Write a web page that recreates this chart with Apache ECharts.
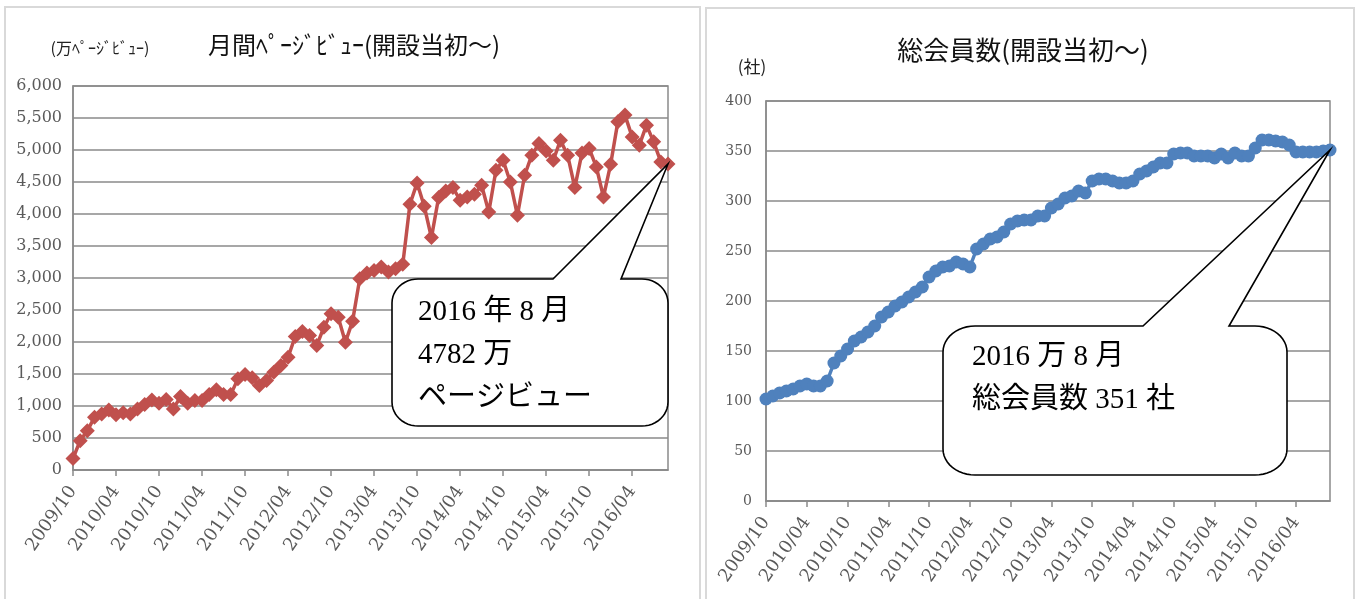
<!DOCTYPE html>
<html><head><meta charset="utf-8">
<script src="https://cdn.jsdelivr.net/npm/echarts@6/dist/echarts.min.js"></script>
<style>html,body{margin:0;padding:0;background:#fff}#c{width:1361px;height:599px}</style>
</head><body><div id="c"></div>
<script>
const months = [
'2009/10','2009/11','2009/12','2010/01','2010/02','2010/03','2010/04','2010/05','2010/06','2010/07','2010/08','2010/09',
'2010/10','2010/11','2010/12','2011/01','2011/02','2011/03','2011/04','2011/05','2011/06','2011/07','2011/08','2011/09',
'2011/10','2011/11','2011/12','2012/01','2012/02','2012/03','2012/04','2012/05','2012/06','2012/07','2012/08','2012/09',
'2012/10','2012/11','2012/12','2013/01','2013/02','2013/03','2013/04','2013/05','2013/06','2013/07','2013/08','2013/09',
'2013/10','2013/11','2013/12','2014/01','2014/02','2014/03','2014/04','2014/05','2014/06','2014/07','2014/08','2014/09',
'2014/10','2014/11','2014/12','2015/01','2015/02','2015/03','2015/04','2015/05','2015/06','2015/07','2015/08','2015/09',
'2015/10','2015/11','2015/12','2016/01','2016/02','2016/03','2016/04','2016/05','2016/06','2016/07','2016/08','2016/09'];

const pageViews = [
180,458,615,823,876,939,865,896,876,955,1022,1095,
1043,1100,955,1147,1043,1085,1085,1178,1252,1178,1178,1424,
1491,1440,1319,1397,1528,1632,1762,2086,2164,2102,1945,2232,
2441,2388,1997,2326,2989,3077,3119,3171,3093,3145,3213,4152,
4486,4121,3631,4257,4360,4413,4215,4266,4308,4449,4032,4684,
4840,4501,3980,4606,4919,5102,4986,4840,5154,4919,4413,4955,
5024,4736,4266,4778,5440,5545,5205,5075,5388,5127,4814,4782];

const members = [
102,105,108,110,112,115,117,115,115,120,138,145,
152,160,164,169,175,184,189,195,199,204,209,214,
224,230,234,235,239,237,234,252,257,262,264,269,
277,280,281,281,285,285,293,297,303,305,310,308,
320,322,322,320,318,318,320,327,330,334,338,338,
347,348,348,345,345,345,343,347,343,348,345,345,
353,361,361,360,359,356,349,349,349,349,350,351];

const leftTitle = '月間ﾍﾟｰｼﾞﾋﾞｭｰ(開設当初～)';
const leftUnit = '(万ﾍﾟｰｼﾞﾋﾞｭｰ)';
const rightTitle = '総会員数(開設当初～)';
const rightUnit = '(社)';
const leftNote = ['2016 年 8 月', '4782 万', 'ページビュー'];
const rightNote = ['2016 万 8 月', '総会員数 351 社'];

const chart = echarts.init(document.getElementById('c'), null, {renderer: 'canvas'});
const gray = '#8a8a8a';
const lblColor = '#5a5a5a';
const serif = 'DejaVu Serif';
const cjk = '"Noto Sans CJK JP"';

function xAxisCfg(gi) {
  return {
    type: 'category', gridIndex: gi, data: months, boundaryGap: false,
    axisLine: {show: true, lineStyle: {color: gray, width: 1.5}},
    axisTick: {show: true, interval: 5, length: 6, lineStyle: {color: gray, width: 1.5}},
    axisLabel: {interval: 5, rotate: 55, margin: 18, color: lblColor, fontFamily: serif, fontSize: 18},
    splitLine: {show: false}
  };
}
function yAxisCfg(gi, max, step, fs, mg) {
  return {
    type: 'value', gridIndex: gi, min: 0, max: max, interval: step,
    axisLine: {show: true, lineStyle: {color: gray, width: 1.5}},
    axisTick: {show: false},
    axisLabel: {color: lblColor, fontFamily: serif, fontSize: fs, margin: mg,
      formatter: v => v.toLocaleString('en-US')},
    splitLine: {show: true, lineStyle: {color: gray, width: 1.5}}
  };
}

chart.setOption({
  animation: false,
  backgroundColor: '#fff',
  grid: [
    {left: 73, top: 86, width: 595, height: 384, show: true, borderColor: gray, borderWidth: 1.5, containLabel: false, outerBoundsMode: 'none'},
    {left: 766, top: 101, width: 564, height: 400, show: true, borderColor: gray, borderWidth: 1.5, containLabel: false, outerBoundsMode: 'none'}
  ],
  xAxis: [xAxisCfg(0), xAxisCfg(1)],
  yAxis: [yAxisCfg(0, 6000, 500, 16, 11), yAxisCfg(1, 400, 50, 14, 14)],
  series: [
    {type: 'line', xAxisIndex: 0, yAxisIndex: 0, data: pageViews, symbol: 'diamond', symbolSize: 15,
     showAllSymbol: true, itemStyle: {color: '#C0504D'}, lineStyle: {color: '#C0504D', width: 3.5}, z: 3},
    {type: 'line', xAxisIndex: 1, yAxisIndex: 1, data: members, symbol: 'circle', symbolSize: 13,
     showAllSymbol: true, itemStyle: {color: '#4F81BD'}, lineStyle: {color: '#4F81BD', width: 3.5}, z: 3}
  ]
});

function callout(x, y, w, h, rx, ry, a, b, tip) {
  const pts = [];
  const arc = (cx, cy, t0, t1) => {
    for (let k = 0; k <= 12; k++) {
      const t = (t0 + (t1 - t0) * k / 12) * Math.PI / 180;
      pts.push([cx + rx * Math.cos(t), cy + ry * Math.sin(t)]);
    }
  };
  arc(x + rx, y + ry, 180, 270);
  pts.push([a, y], tip, [b, y]);
  arc(x + w - rx, y + ry, 270, 360);
  arc(x + w - rx, y + h - ry, 0, 90);
  arc(x + rx, y + h - ry, 90, 180);
  return {type: 'polygon', shape: {points: pts}, style: {fill: '#fff', stroke: '#000', lineWidth: 1.6}, z: 100};
}

const tipL = chart.convertToPixel({seriesIndex: 0}, [pageViews.length - 1, pageViews[pageViews.length - 1]]);
const tipR = chart.convertToPixel({seriesIndex: 1}, [members.length - 1, members[members.length - 1]]);

const noteFont = '29px "Liberation Serif", ' + cjk;
const graphics = [
  {type: 'rect', shape: {x: 5, y: 7, width: 695, height: 620}, style: {fill: 'none', stroke: '#d9d9d9', lineWidth: 2}, z: 0, silent: true},
  {type: 'rect', shape: {x: 706, y: 8, width: 648, height: 620}, style: {fill: 'none', stroke: '#d9d9d9', lineWidth: 2}, z: 0, silent: true},
  {type: 'text', x: 354, y: 45, style: {text: leftTitle, font: '24px ' + cjk, fill: '#111', align: 'center', verticalAlign: 'middle'}},
  {type: 'text', x: 100, y: 48, style: {text: leftUnit, font: '16px ' + cjk, fill: '#222', align: 'center', verticalAlign: 'middle'}},
  {type: 'text', x: 1023, y: 50, style: {text: rightTitle, font: '26px ' + cjk, fill: '#111', align: 'center', verticalAlign: 'middle'}},
  {type: 'text', x: 752, y: 67, style: {text: rightUnit, font: '17px ' + cjk, fill: '#222', align: 'center', verticalAlign: 'middle'}},
  callout(392, 279, 276, 147, 26, 24, 553, 621, tipL),
  callout(943, 326, 344, 149, 32, 26, 1143, 1229, tipR)
];
leftNote.forEach((t, k) => graphics.push({type: 'text', x: 418, y: 312 + k * 43, z: 101,
  style: {text: t, font: noteFont, fill: '#000', align: 'left', verticalAlign: 'middle'}}));
rightNote.forEach((t, k) => graphics.push({type: 'text', x: 972, y: 357 + k * 43, z: 101,
  style: {text: t, font: noteFont, fill: '#000', align: 'left', verticalAlign: 'middle'}}));

chart.setOption({graphic: graphics});
</script></body></html>
